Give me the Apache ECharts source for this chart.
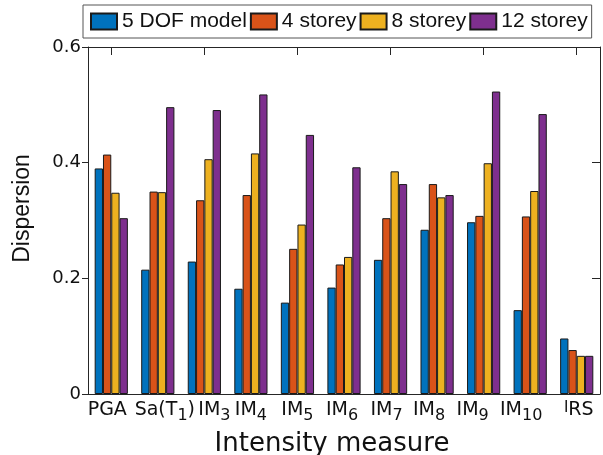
<!DOCTYPE html>
<html>
<head>
<meta charset="utf-8">
<script src="https://cdn.jsdelivr.net/npm/echarts@6/dist/echarts.min.js"></script>
<style>
  html, body { margin: 0; padding: 0; background: #fff; }
  #chart { width: 603px; height: 455px; }
</style>
</head>
<body>
<div id="chart"></div>
<script>
// ---- data ----
const categories = ['PGA', 'Sa(T1)', 'IM3', 'IM4', 'IM5', 'IM6', 'IM7', 'IM8', 'IM9', 'IM10', 'IRS'];
const seriesNames = ['5 DOF model', '4 storey', '8 storey', '12 storey'];
const dof5     = [0.390, 0.215, 0.229, 0.182, 0.158, 0.184, 0.232, 0.284, 0.297, 0.145, 0.096];
const storey4  = [0.414, 0.350, 0.335, 0.344, 0.251, 0.224, 0.304, 0.363, 0.308, 0.307, 0.076];
const storey8  = [0.348, 0.349, 0.406, 0.416, 0.293, 0.237, 0.385, 0.340, 0.399, 0.351, 0.066];
const storey12 = [0.304, 0.496, 0.491, 0.518, 0.448, 0.392, 0.363, 0.344, 0.523, 0.484, 0.066];
const yMin = 0, yMax = 0.6, yStep = 0.2;
const seriesValues = [dof5, storey4, storey8, storey12];

// ---- styling ----
const colors = ['#0072BD', '#D95319', '#EDB120', '#7E2F8E'];
const TXT = '#111';
const AX = '#262626';
const FAM_TICK = 'DejaVu Sans';
const FAM_LAB = 'Liberation Sans';

// small horizontal nudges of tick labels (style only), px
const labelNudge = [-4, 7, 10, 0, 0, -2, -4, -8, -11, -9, 2];

const rich = {
  n: { fontFamily: FAM_TICK, fontSize: 19, lineHeight: 22, verticalAlign: 'top', color: TXT },
  s: { fontFamily: FAM_TICK, fontSize: 16, lineHeight: 16, verticalAlign: 'top', padding: [7, 0, 0, 0], color: TXT },
  t: { fontFamily: FAM_TICK, fontSize: 15, lineHeight: 18, verticalAlign: 'top', color: TXT }
};
labelNudge.forEach(v => {
  const w = Math.abs(v) * 2;
  if (w > 0) rich['g' + w] = { width: w, fontSize: 19, lineHeight: 22, verticalAlign: 'top' };
});

function labelFor(cat, idx) {
  let body;
  const m = cat.match(/^IM(\d+)$/);
  if (m) body = '{n|IM}{s|' + m[1] + '}';
  else if (cat === 'Sa(T1)') body = '{n|Sa(T}{s|1}{n|)}';
  else if (cat === 'IRS') body = '{t|I}{n|RS}';
  else body = '{n|' + cat + '}';
  const sh = labelNudge[idx] || 0;
  if (sh > 0) body = '{g' + (2 * sh) + '| }' + body;
  else if (sh < 0) body = body + '{g' + (-2 * sh) + '| }';
  return body;
}

const chart = echarts.init(document.getElementById('chart'), null, { renderer: 'canvas' });

const option = {
  animation: false,
  backgroundColor: '#fff',
  color: colors,
  legend: {
    data: seriesNames,
    icon: 'rect',
    left: 83,
    top: 5,
    orient: 'horizontal',
    itemWidth: 26,
    itemHeight: 16,
    itemGap: 3,
    padding: [6, 4, 6, 7],
    borderColor: '#555',
    borderWidth: 1,
    backgroundColor: '#fff',
    textStyle: { fontFamily: FAM_LAB, fontSize: 21, color: TXT }
  },
  grid: { left: 88, right: 3, top: 47, bottom: 61, containLabel: false, outerBoundsMode: 'none' },
  xAxis: [
    {
      type: 'category',
      data: categories,
      position: 'bottom',
      name: 'Intensity measure',
      nameLocation: 'middle',
      nameGap: 37,
      nameTextStyle: { fontFamily: FAM_TICK, fontSize: 26, color: TXT, padding: [0, 24, 0, 0] },
      axisLine: { show: true, lineStyle: { color: AX, width: 1 } },
      axisTick: { show: false },
      axisLabel: {
        interval: 0,
        margin: 7,
        formatter: labelFor,
        rich: rich,
        fontFamily: FAM_TICK,
        fontSize: 19,
        color: TXT
      },
      splitLine: { show: false }
    },
    {
      type: 'category',
      data: categories,
      position: 'top',
      axisLine: { show: true, onZero: false, lineStyle: { color: AX, width: 1 } },
      axisTick: { show: true, inside: true, length: 8, alignWithLabel: true, lineStyle: { color: AX } },
      axisLabel: { show: false },
      splitLine: { show: false }
    }
  ],
  yAxis: [
    {
      type: 'value',
      min: yMin,
      max: yMax,
      interval: yStep,
      position: 'left',
      name: 'Dispersion',
      nameLocation: 'middle',
      nameGap: 54,
      nameTextStyle: { fontFamily: FAM_LAB, fontSize: 23, color: TXT, padding: [0, 0, 0, 24] },
      axisLine: { show: true, lineStyle: { color: AX, width: 1 } },
      axisTick: { show: true, inside: false, length: 6, lineStyle: { color: AX } },
      axisLabel: { margin: 7, fontFamily: FAM_TICK, fontSize: 18, color: TXT },
      splitLine: { show: false }
    },
    {
      type: 'value',
      min: yMin,
      max: yMax,
      interval: yStep,
      position: 'right',
      axisLine: { show: true, onZero: false, lineStyle: { color: AX, width: 1 } },
      axisTick: { show: true, inside: true, length: 8, lineStyle: { color: AX } },
      axisLabel: { show: false },
      splitLine: { show: false }
    }
  ],
  series: seriesNames.map((name, i) => ({
    name: name,
    type: 'bar',
    xAxisIndex: 0,
    yAxisIndex: 0,
    data: seriesValues[i],
    barWidth: 8.3,
    barGap: '0%',
    itemStyle: { color: colors[i], borderColor: '#1a1a1a', borderWidth: 1 }
  }))
};

chart.setOption(option);
</script>
</body>
</html>
